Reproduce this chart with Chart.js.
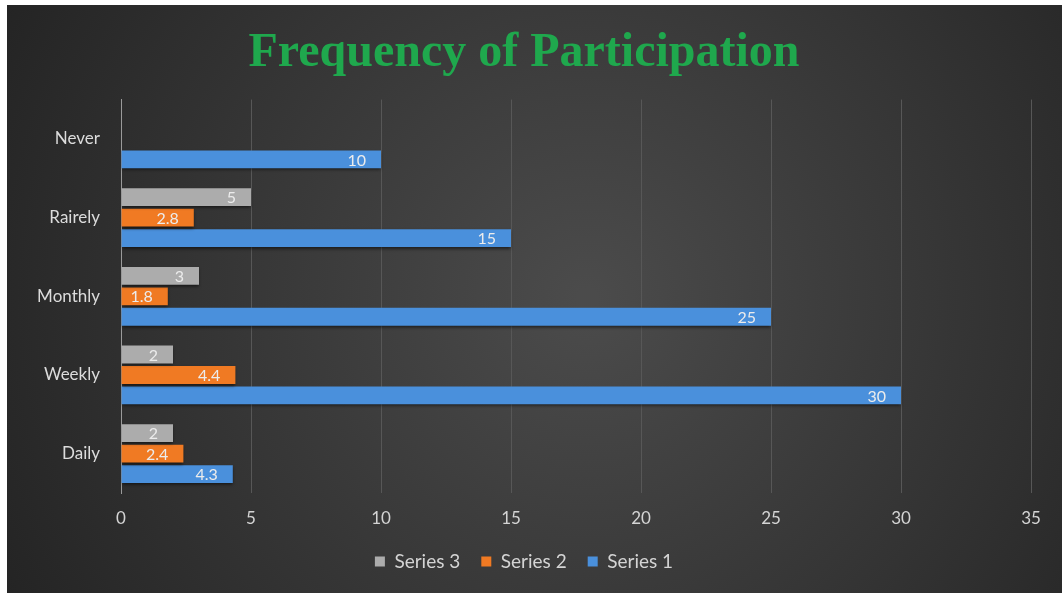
<!doctype html>
<html>
<head>
<meta charset="UTF-8">
<title>Frequency of Participation</title>
<script src="https://cdn.jsdelivr.net/npm/chart.js@4.4.1/dist/chart.umd.min.js"></script>
<style>
  body { margin: 0; background: #fff; }
  #holder { position: absolute; left: 7px; top: 5px; width: 1055px; height: 588px; }
</style>
</head>
<body>
<div id="holder"><canvas id="chart"></canvas></div>
<script>
// data, bottom category first (reversed y axis puts Daily at the bottom)
const categories = ['Daily', 'Weekly', 'Monthly', 'Rairely', 'Never']
const series1 = [4.3, 30, 25, 15, 10]
const series2 = [2.4, 4.4, 1.8, 2.8, null]
const series3 = [2, 2, 3, 5, null]
const seriesNames = ['Series 3', 'Series 2', 'Series 1']
const colors = ['#acacac', '#f07a23', '#4a90dc']

const labelFont = 'Lato, "Liberation Sans", sans-serif'

// dark radial background behind everything
const backdrop = {
  id: 'backdrop',
  beforeDraw (chart) {
    const { ctx, width, height } = chart
    const g = ctx.createRadialGradient(width * 0.55, height * 0.5, 10, width * 0.55, height * 0.5, width * 0.62)
    g.addColorStop(0, '#4b4b4b')
    g.addColorStop(1, '#242424')
    ctx.save()
    ctx.fillStyle = g
    ctx.fillRect(0, 0, width, height)
    ctx.restore()
  }
}

// bar shadow + value labels at the inside end of each bar
const barLabels = {
  id: 'barLabels',
  beforeDatasetsDraw (chart) {
    const ctx = chart.ctx
    ctx.save()
    ctx.shadowColor = 'rgba(0,0,0,0.55)'
    ctx.shadowBlur = 3
    ctx.shadowOffsetY = 2
  },
  afterDatasetsDraw (chart) {
    const ctx = chart.ctx
    ctx.restore()
    ctx.save()
    ctx.font = '16px ' + labelFont
    ctx.fillStyle = '#ececec'
    ctx.textAlign = 'right'
    ctx.textBaseline = 'middle'
    chart.data.datasets.forEach((ds, i) => {
      chart.getDatasetMeta(i).data.forEach((bar, j) => {
        const v = ds.data[j]
        if (v == null) return
        ctx.fillText(String(v), bar.x - 15, bar.y + 1)
      })
    })
    ctx.restore()
  }
}

// series 3 first so it sits on top inside each group
const datasets = [series3, series2, series1].map((d, i) => ({
  label: seriesNames[i],
  data: d,
  backgroundColor: colors[i],
  borderWidth: 0,
  categoryPercentage: 0.78,
  barPercentage: 0.87
}))

new Chart(document.getElementById('chart'), {
  type: 'bar',
  data: { labels: categories, datasets },
  options: {
    indexAxis: 'y',
    responsive: true,
    maintainAspectRatio: false,
    animation: false,
    layout: { padding: { left: 10, right: 31, top: 0, bottom: 12 } },
    scales: {
      x: {
        min: 0,
        max: 35,
        afterFit (s) { s.height = 38 },
        ticks: { stepSize: 5, color: '#d4d4d4', font: { family: labelFont, size: 17 }, padding: 15 },
        grid: { color: '#575757', lineWidth: 1, drawTicks: false },
        border: { display: false }
      },
      y: {
        reverse: true,
        afterFit (s) { s.width = 104 },
        ticks: { color: '#dcdcdc', font: { family: labelFont, size: 17 }, padding: 13 },
        grid: { display: false },
        border: { display: true, color: '#9a9a9a', width: 1 }
      }
    },
    plugins: {
      title: {
        display: true,
        text: 'Frequency of Participation',
        color: '#1fa84d',
        font: { family: '"Liberation Serif", "DejaVu Serif", serif', size: 48, weight: 'bold' },
        padding: { top: 20, bottom: 17 }
      },
      legend: {
        position: 'bottom',
        labels: {
          color: '#d4d4d4',
          font: { family: labelFont, size: 19 },
          boxWidth: 10,
          boxHeight: 10,
          padding: 21
        }
      },
      tooltip: { enabled: false }
    }
  },
  plugins: [backdrop, barLabels]
})
</script>
</body>
</html>
